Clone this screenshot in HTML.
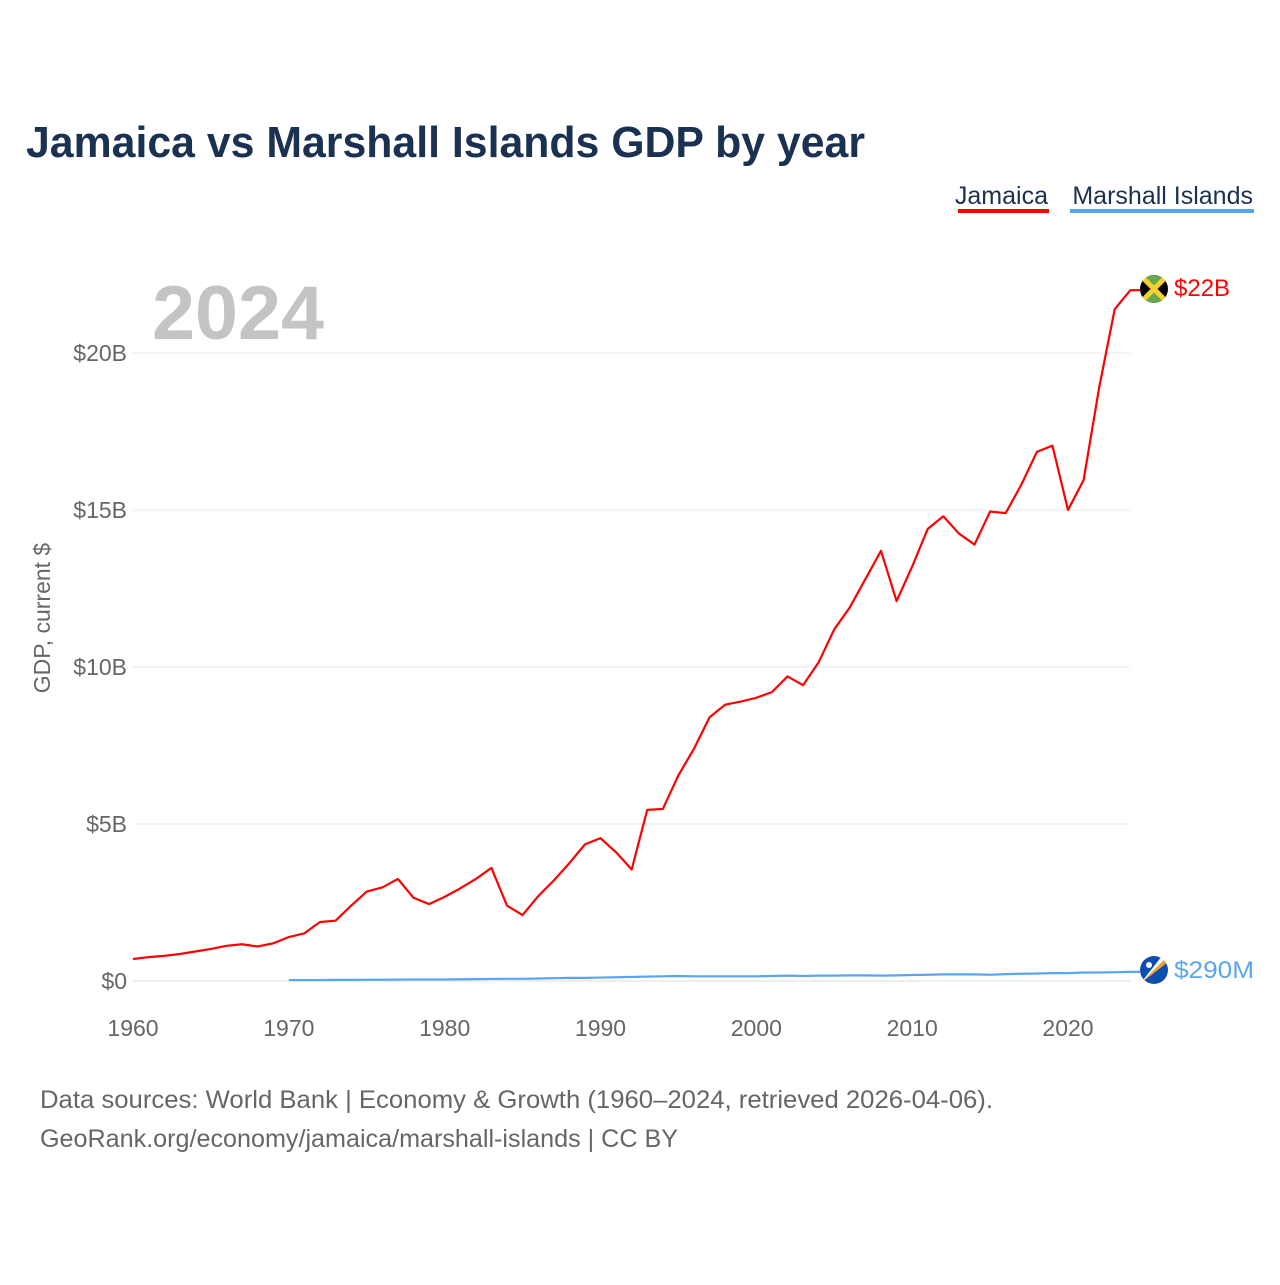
<!DOCTYPE html>
<html><head><meta charset="utf-8"><style>
body{margin:0;background:#fff;width:1280px;height:1280px;overflow:hidden;font-family:"Liberation Sans",sans-serif}
</style></head><body>
<svg id="chart" width="1280" height="1280" xmlns="http://www.w3.org/2000/svg" font-family="Liberation Sans, sans-serif">
<text x="26" y="157" font-size="44" font-weight="bold" fill="#1b3152" textLength="839" lengthAdjust="spacingAndGlyphs">Jamaica vs Marshall Islands GDP by year</text>
<g>
<text x="1048" y="204" font-size="25" fill="#1b3152" text-anchor="end">Jamaica</text>
<rect x="958" y="209" width="91" height="4" fill="#ff0000"/>
<text x="1253" y="204" font-size="25" fill="#1b3152" text-anchor="end">Marshall Islands</text>
<rect x="1070" y="209" width="184" height="4" fill="#5aa5f0"/>
</g>
<text x="152" y="339" font-size="76" font-weight="bold" fill="#c4c4c4" textLength="172" lengthAdjust="spacingAndGlyphs">2024</text>
<g id="grid"></g><g id="axes"></g><g id="series"></g>
<text transform="translate(50,618) rotate(-90)" font-size="23" fill="#666" text-anchor="middle">GDP, current $</text>
<g>
<clipPath id="cj"><circle cx="1154" cy="289" r="14"/></clipPath>
<g clip-path="url(#cj)"><rect x="1140" y="275" width="28" height="28" fill="#000"/>
<polygon points="1140,275 1168,275 1154,289" fill="#6aa84f"/><polygon points="1140,303 1168,303 1154,289" fill="#6aa84f"/>
<line x1="1140" y1="275" x2="1168" y2="303" stroke="#f5d130" stroke-width="5"/><line x1="1168" y1="275" x2="1140" y2="303" stroke="#f5d130" stroke-width="5"/></g>
</g>
<g>
<clipPath id="cm"><circle cx="1154" cy="970" r="14"/></clipPath>
<g clip-path="url(#cm)"><rect x="1140" y="956" width="28" height="28" fill="#0a4fb0"/>
<polygon points="1140,984 1168,956 1168,962" fill="#f5a020"/><polygon points="1140,984 1168,956 1162,956" fill="#fff"/>
<circle cx="1149" cy="965" r="3" fill="#fff"/></g>
</g>
<text x="1174" y="296" font-size="24" fill="#ff0000">$22B</text>
<text x="1174" y="978" font-size="24" fill="#5aa5f0" textLength="80" lengthAdjust="spacingAndGlyphs">$290M</text>
<text x="40" y="1108" font-size="25" fill="#666" textLength="953" lengthAdjust="spacingAndGlyphs">Data sources: World Bank | Economy &amp; Growth (1960–2024, retrieved 2026-04-06).</text>
<text x="40" y="1147" font-size="25" fill="#666" textLength="638" lengthAdjust="spacingAndGlyphs">GeoRank.org/economy/jamaica/marshall-islands | CC BY</text>
</svg>
<script>
const years=[];for(let y=1960;y<=2024;y++)years.push(y);
const jamaica=[0.70,0.76,0.80,0.86,0.94,1.02,1.12,1.17,1.10,1.20,1.40,1.52,1.88,1.92,2.40,2.85,2.98,3.25,2.65,2.45,2.68,2.95,3.25,3.60,2.40,2.10,2.70,3.20,3.75,4.35,4.55,4.10,3.55,5.45,5.48,6.55,7.40,8.40,8.80,8.90,9.02,9.20,9.70,9.42,10.15,11.20,11.90,12.80,13.70,12.10,13.20,14.40,14.80,14.25,13.90,14.95,14.90,15.80,16.85,17.05,15.00,15.95,18.90,21.40,22.00];
const marshallYears=[];for(let y=1970;y<=2024;y++)marshallYears.push(y);
const marshall=[0.03,0.03,0.03,0.035,0.035,0.04,0.04,0.045,0.05,0.05,0.05,0.055,0.06,0.065,0.07,0.07,0.08,0.09,0.10,0.10,0.11,0.12,0.13,0.14,0.15,0.16,0.15,0.15,0.15,0.15,0.15,0.16,0.17,0.16,0.17,0.17,0.18,0.18,0.17,0.18,0.19,0.20,0.21,0.21,0.21,0.20,0.22,0.23,0.24,0.25,0.25,0.27,0.27,0.28,0.29];
const yTicks=[0,5,10,15,20];const yTickLabels=["$0","$5B","$10B","$15B","$20B"];
const xTicks=[1960,1970,1980,1990,2000,2010,2020];
const X=y=>133+(y-1960)*935/60, Y=v=>981-v*31.4;
const NS="http://www.w3.org/2000/svg";
function mk(t,a,p){const e=document.createElementNS(NS,t);for(const k in a)e.setAttribute(k,a[k]);document.getElementById(p).appendChild(e);return e;}
yTicks.forEach((v,i)=>{
 const l=mk('line',{x1:133,x2:1130,y1:Y(v),y2:Y(v),stroke:v===0?'#ddd':'#e8e8e8','stroke-width':1},'grid');
 
 
 const t=mk('text',{x:127,y:Y(v)+8,'font-size':23,fill:'#666','text-anchor':'end'},'axes');t.textContent=yTickLabels[i];
 
 
});
xTicks.forEach(v=>{
 const t=mk('text',{x:X(v),y:1036,'font-size':23,fill:'#666','text-anchor':'middle'},'axes');t.textContent=v;
 
 
});
const jp=years.map((y,i)=>X(y)+','+Y(jamaica[i])).join(' ')+' '+1140+','+Y(jamaica[jamaica.length-1]);
const jl=mk('polyline',{points:jp,fill:'none',stroke:'#ff0000','stroke-width':2.2,'stroke-linejoin':'round'},'series');


const mp=marshallYears.map((y,i)=>X(y)+','+Y(marshall[i])).join(' ')+' '+1140+','+Y(marshall[marshall.length-1]);
const ml=mk('polyline',{points:mp,fill:'none',stroke:'#5aa5f0','stroke-width':2.2,'stroke-linejoin':'round'},'series');


</script>
</body></html>
